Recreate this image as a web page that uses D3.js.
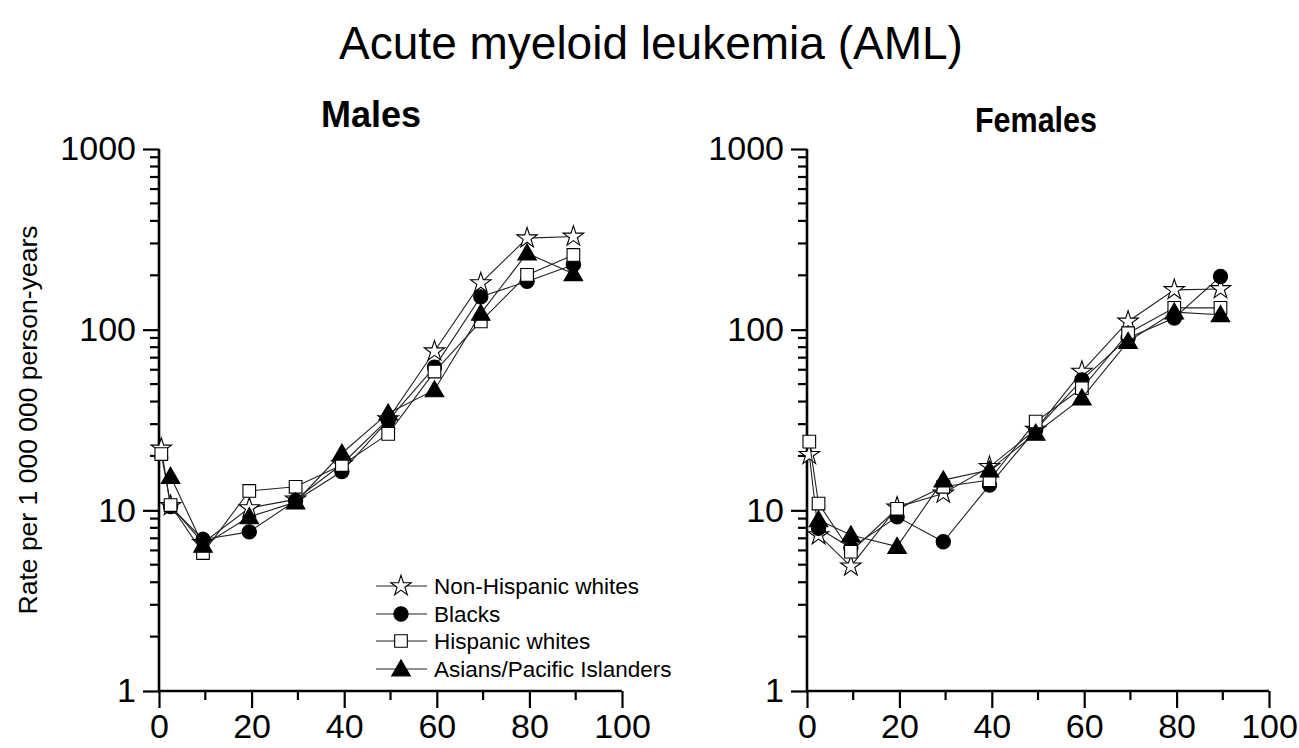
<!DOCTYPE html>
<html><head><meta charset="utf-8">
<script src="https://cdn.jsdelivr.net/npm/d3@7"></script>
<style>body{margin:0;background:#fff}svg{display:block}</style>
</head><body>
<svg id="c" width="1299" height="748"></svg>
<script>
const ages = [0.5, 2.5, 9.5, 19.5, 29.5, 39.5, 49.5, 59.5, 69.5, 79.5, 89.5];
const seriesNames = ["Non-Hispanic whites", "Blacks", "Hispanic whites", "Asians/Pacific Islanders"];
const malesNHW   = [22, 10.6, 6.6, 10.3, 11.5, 18, 32, 76, 181, 321, 328];
const malesBlack = [null, 10.5, 6.9, 7.6, 11.3, 16.4, 31.5, 62, 152, 185, 229];
const malesHisp  = [20.5, 10.7, 5.8, 12.8, 13.5, 17.8, 26.5, 58.6, 111, 201, 259];
const malesAPI   = [null, 15.4, 6.4, 9.2, 11.1, 20.7, 34.5, 46.4, 123, 265, 204];
const femalesNHW   = [20.3, 7.3, 4.9, 10.4, 12.4, 17.4, 28, 58.6, 111, 166, 168];
const femalesBlack = [null, 7.95, 6.2, 9.2, 6.7, 13.8, 27.9, 52.7, 90, 116, 197];
const femalesHisp  = [24, 10.9, 5.9, 10.2, 13.5, 14.7, 31, 47.4, 95.6, 132, 132];
const femalesAPI   = [null, 8.85, 7.3, 6.3, 14.7, 16.7, 26.7, 41.8, 86, 125, 121];
const xTicks = [0, 20, 40, 60, 80, 100];
const yTicks = [1, 10, 100, 1000];

const svg = d3.select("#c");
const FONT = "Arial, 'Liberation Sans', sans-serif";

svg.append("text").attr("x", 651).attr("y", 59).attr("text-anchor", "middle")
  .attr("font-family", FONT).attr("font-size", 46).text("Acute myeloid leukemia (AML)");

svg.append("text").attr("transform", "translate(37,420) rotate(-90)").attr("text-anchor", "middle")
  .attr("font-family", FONT).attr("font-size", 26.5).text("Rate per 1 000 000 person-years");

const y = d3.scaleLog().domain([1, 1000]).range([691, 149]);
const symbols = [d3.symbolStar, d3.symbolCircle, d3.symbolSquare, d3.symbolTriangle];
const sizes = [130, 160, 160, 150];
const fills = ["#fff", "#000", "#fff", "#000"];

function marker(g, i, cx, cy) {
  g.append("path").attr("d", d3.symbol().type(symbols[i]).size(sizes[i])())
    .attr("transform", `translate(${cx},${cy + (i === 3 ? 1.5 : 0)})`)
    .attr("fill", fills[i]).attr("stroke", "#000").attr("stroke-width", 1.1);
}

function panel(x0, x1, title, titleX, titleY, titleSize, titleLen, data, legend) {
  const x = d3.scaleLinear().domain([0, 100]).range([x0, x1]);
  const g = svg.append("g");
  const yAx = d3.axisLeft(y).tickValues(yTicks).tickFormat(d3.format("d")).tickSize(16).tickPadding(7);
  const ga = g.append("g").attr("transform", `translate(${x0},0)`).call(yAx);
  const minor = [];
  for (let p = 1; p < 1000; p *= 10) for (let k = 2; k <= 9; k++) minor.push(p * k);
  g.append("g").selectAll("line").data(minor).join("line")
    .attr("x1", x0 - 9).attr("x2", x0).attr("y1", d => y(d)).attr("y2", d => y(d))
    .attr("stroke", "#000").attr("stroke-width", 2.2);
  const xAx = d3.axisBottom(x).tickValues(xTicks).tickSize(17).tickPadding(6);
  const gx = g.append("g").attr("transform", `translate(0,691)`).call(xAx);
  g.append("g").selectAll("line").data([10, 30, 50, 70, 90]).join("line")
    .attr("x1", d => x(d)).attr("x2", d => x(d)).attr("y1", 691).attr("y2", 700)
    .attr("stroke", "#000").attr("stroke-width", 2.2);
  [ga, gx].forEach(a => {
    a.select(".domain").remove();
    a.selectAll(".tick line").attr("stroke-width", 2.2);
    a.selectAll("text").attr("font-family", FONT).attr("font-size", 34).attr("fill", "#000");
  });
  g.append("line").attr("x1", x0).attr("x2", x0).attr("y1", y(1000)).attr("y2", 691).attr("stroke", "#000").attr("stroke-width", 2.6);
  g.append("line").attr("x1", x0).attr("x2", x1).attr("y1", 691).attr("y2", 691).attr("stroke", "#000").attr("stroke-width", 2.6);

  const t = g.append("text").attr("x", titleX).attr("y", titleY).attr("text-anchor", "middle")
    .attr("font-family", FONT).attr("font-weight", "bold").attr("font-size", titleSize).text(title);
  if (titleLen) t.attr("textLength", titleLen).attr("lengthAdjust", "spacingAndGlyphs");

  const line = d3.line().defined(d => d != null).x((d, i) => x(ages[i])).y(d => y(d));
  data.forEach((vals, si) => {
    const sg = g.append("g");
    sg.append("path").attr("d", line(vals)).attr("fill", "none").attr("stroke", "#222").attr("stroke-width", 1.1);
    vals.forEach((v, i) => { if (v != null) marker(sg, si, x(ages[i]), y(v)); });
  });

  if (legend) {
    const ly = [586, 614, 641, 669];
    seriesNames.forEach((n, i) => {
      g.append("line").attr("x1", 376).attr("x2", 427).attr("y1", ly[i]).attr("y2", ly[i]).attr("stroke", "#222").attr("stroke-width", 1.1);
      marker(g, i, 401, ly[i]);
      g.append("text").attr("x", 434).attr("y", ly[i] + 8).attr("font-family", FONT).attr("font-size", 22.5).text(n);
    });
  }
}

panel(159, 622, "Males", 371, 127, 36, null, [malesNHW, malesBlack, malesHisp, malesAPI], true);
panel(807, 1269, "Females", 1036, 132, 35, 122, [femalesNHW, femalesBlack, femalesHisp, femalesAPI], false);
</script>
</body></html>
